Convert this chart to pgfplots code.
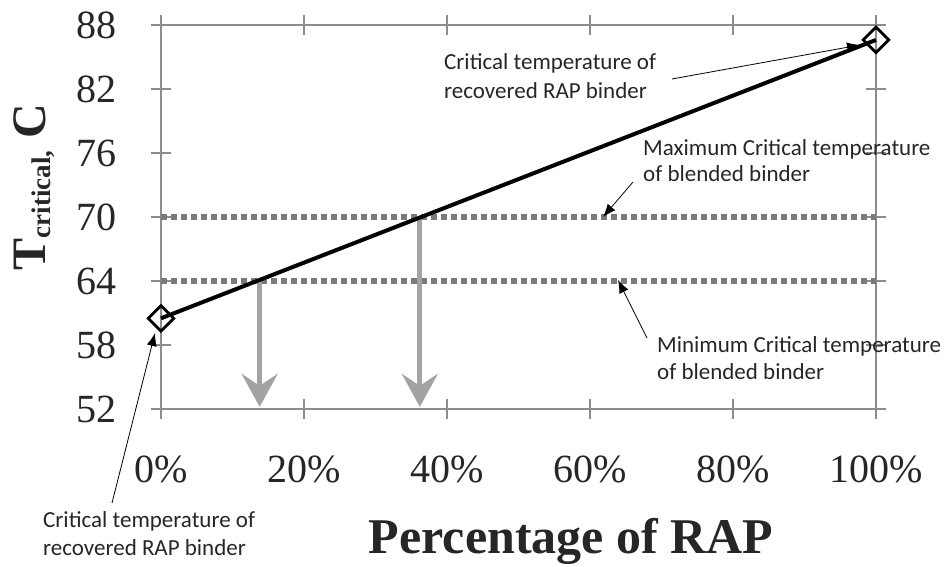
\documentclass[border=0pt]{standalone}
\usepackage{fontspec}
\setmainfont{Liberation Serif}
\newfontfamily\annfont{Carlito}
\usepackage{pgfplots}
\pgfplotsset{compat=1.18}
\usetikzlibrary{arrows.meta}
\definecolor{axgray}{HTML}{8C8C8C}
\definecolor{dotgray}{HTML}{7A7A7A}
\definecolor{arrgray}{HTML}{A3A3A3}
\definecolor{txt}{HTML}{262626}
\begin{document}
\begin{tikzpicture}
\useasboundingbox (0,0) rectangle (946pt,567pt);
\begin{axis}[
  at={(161pt,158pt)}, anchor=south west,
  scale only axis, width=715pt, height=384pt,
  xmin=0, xmax=100, ymin=52, ymax=88,
  xtick={0,20,40,60,80,100},
  xticklabels={0\%,20\%,40\%,60\%,80\%,100\%},
  ytick={52,58,64,70,76,82,88},
  tick align=center, major tick length=20pt,
  axis line style={axgray, line width=1.2pt},
  tick style={axgray, line width=1.2pt},
  ticklabel style={font=\fontsize{40}{40}\selectfont, text=txt},
  xticklabel style={anchor=center, yshift=-50pt, inner sep=0pt},
  yticklabel style={anchor=east, xshift=-34pt, inner sep=0pt},
  /pgf/number format/assume math mode=true,
  clip=false,
]
\addplot[dotgray, line width=6pt, dash pattern=on 6pt off 4pt] coordinates {(0,70) (100,70)};
\addplot[dotgray, line width=6pt, dash pattern=on 6pt off 4pt] coordinates {(0,64) (100,64)};
\addplot[arrgray, line width=5pt, -{Stealth[length=33pt, width=36pt, inset=12pt]}] coordinates {(13.8,64) (13.8,52.2)};
\addplot[arrgray, line width=5pt, -{Stealth[length=33pt, width=36pt, inset=12pt]}] coordinates {(36.2,70) (36.2,52.2)};
\addplot[black, line width=4pt, mark=square, mark size=9pt,
  mark options={solid, line width=2.8pt, rotate=45}] coordinates {(0,60.5) (100,86.6)};
\end{axis}
% annotation arrows
\draw[black, line width=0.8pt, -{Latex[length=13pt, width=10pt]}] (672pt,488pt) -- (860pt,522pt);
\draw[black, line width=0.8pt, -{Latex[length=13pt, width=10pt]}] (633pt,385pt) -- (603pt,350pt);
\draw[black, line width=0.8pt, -{Latex[length=13pt, width=10pt]}] (647pt,229pt) -- (618pt,287pt);
\draw[black, line width=0.8pt, -{Latex[length=13pt, width=10pt]}] (112pt,64pt) -- (155pt,234pt);
% annotation texts
\begin{scope}[every node/.style={anchor=base west, inner sep=0pt, text=txt, font=\annfont\fontsize{23}{23}\selectfont}]
\node at (444pt,497pt) {Critical temperature of};
\node at (444pt,468pt) {recovered RAP binder};
\node at (643pt,411pt) {Maximum Critical temperature};
\node at (643pt,385pt) {of blended binder};
\node at (657pt,214pt) {Minimum Critical temperature};
\node at (657pt,187pt) {of blended binder};
\node at (43pt,39pt) {Critical temperature of};
\node at (43pt,11pt) {recovered RAP binder};
\end{scope}
% axis titles
\node[rotate=90, anchor=base, inner sep=0pt, text=txt] at (45pt,380pt)
  {\fontsize{48}{48}\selectfont\bfseries T\raisebox{-5pt}{\fontsize{27}{27}\selectfont critical,} C};
\node[anchor=base, inner sep=0pt, text=txt] at (571pt,13pt)
  {\fontsize{50}{50}\selectfont\bfseries Percentage of RAP};
\end{tikzpicture}
\end{document}
